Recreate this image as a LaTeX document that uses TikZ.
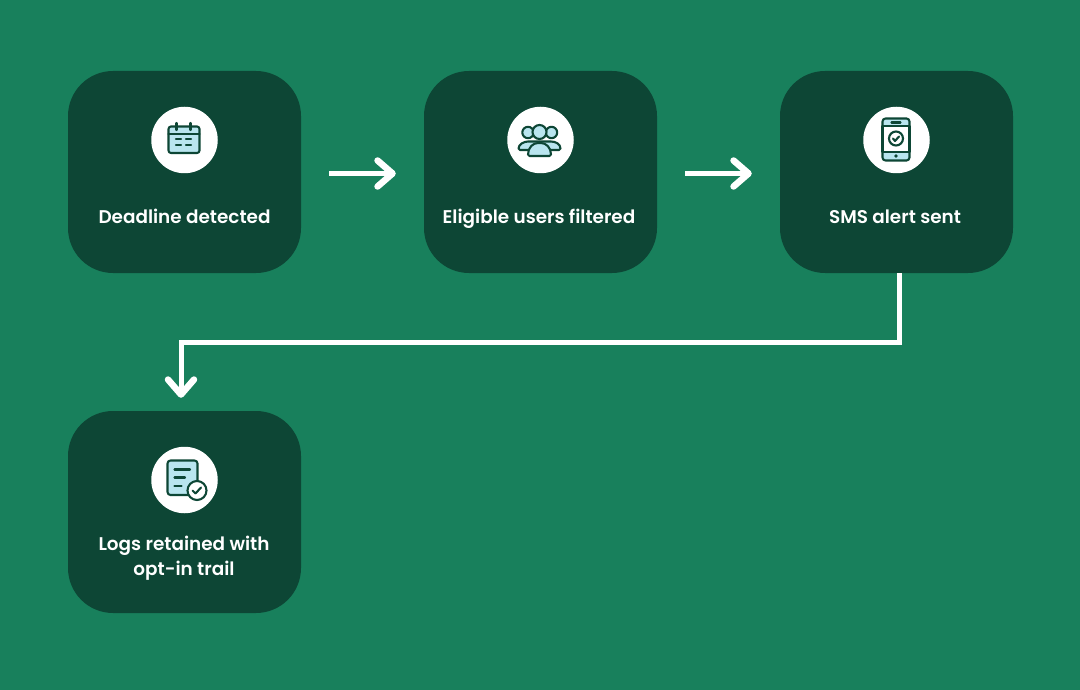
\documentclass[tikz,border=0pt]{standalone}
\usepackage{fontspec}
\setmainfont{Poppins}[BoldFont={* SemiBold}]
\usetikzlibrary{arrows.meta,positioning,calc}
\definecolor{bggreen}{HTML}{18805C}
\definecolor{boxgreen}{HTML}{0D4635}
\definecolor{iconblue}{HTML}{B9E5EF}
\tikzset{
  stepbox/.style={draw=none, fill=boxgreen, rounded corners=45pt, minimum width=233pt, minimum height=202pt, inner sep=0pt},
  badge/.style={circle, fill=white, minimum size=66.5pt, inner sep=0pt},
  steplabel/.style={text=white, font=\bfseries\fontsize{18.4}{25.5}\selectfont, align=center, inner sep=0pt},
  flowline/.style={draw=white, line width=5pt, -{Straight Barb[length=15pt, width=26pt, round, line width=6.5pt]}},
  iconline/.style={draw=boxgreen, line width=2.1pt, line cap=round, line join=round},
  iconfill/.style={iconline, fill=iconblue},
  pics/calicon/.style={code={
    \draw[iconfill, rounded corners=2.5pt] (-16,-13.5) rectangle (15,13);
    \draw[iconline] (-16,-6) -- (15,-6);
    \draw[iconline] (-8,-17) -- (-8,-10) (6,-17) -- (6,-10);
    \draw[iconline] (-8.5,-1) -- (-3.5,-1) (1.5,-1) -- (6.5,-1) (-8.5,5) -- (-3.5,5) (1.5,5) -- (6.5,5);
  }},
  pics/usersicon/.style={code={
    \draw[iconfill] (-12.5,-7.5) circle (5.7);
    \draw[iconfill] (11,-7.5) circle (5.7);
    \draw[iconfill, rounded corners=1.5pt] (-22,10) .. controls (-22,4) and (-16,1.5) .. (-11,1.5) -- (9,1.5) .. controls (15,1.5) and (20,4) .. (20,10) -- cycle;
    \draw[iconfill] (-1,-8) circle (7);
    \draw[iconfill, rounded corners=1.5pt] (-12.5,16) .. controls (-12.5,7.5) and (-7.5,3) .. (-1,3) .. controls (5.5,3) and (10.5,7.5) .. (10.5,16) -- cycle;
  }},
  pics/phoneicon/.style={code={
    \draw[iconfill, rounded corners=3pt] (-14,-21.5) rectangle (13,20.5);
    \draw[iconline, fill=white] (-14,-14) rectangle (13,12);
    \draw[iconline] (-5,-17.5) -- (4,-17.5);
    \fill[boxgreen] (-0.5,16) circle (1.8);
    \draw[iconline] (-0.5,-1.5) circle (7);
    \draw[iconline] (-3.5,-1.5) -- (-1.5,1) -- (2.5,-3.5);
  }},
  pics/docicon/.style={code={
    \draw[iconfill, rounded corners=3pt] (-17,-19.5) rectangle (13,15);
    \draw[iconline] (-10,-10.5) -- (5.5,-10.5) (-10,-2.5) -- (0.5,-2.5) (-10,6) -- (-3,6);
    \draw[iconline, fill=white] (12.5,10.5) circle (9.5);
    \draw[iconline] (8,10.5) -- (11,13.5) (11,13.5) -- (16.5,7.5);
  }},
}
\begin{document}
\begin{tikzpicture}[x=1pt, y=-1pt]
% Background
\fill[bggreen] (0,0) rectangle (1080,690);
\useasboundingbox (0,0) rectangle (1080,690);

% Step boxes
\node[stepbox] (box1) at (184.5,172) {};
\node[stepbox] (box2) at (540.5,172) {};
\node[stepbox] (box3) at (896.5,172) {};
\node[stepbox] (box4) at (184.5,512) {};

% Icon badges
\node[badge] (badge1) at (184.5,140) {};
\node[badge] (badge2) at (540.5,140) {};
\node[badge] (badge3) at (896.5,140) {};
\node[badge] (badge4) at (184.5,480) {};

% Icons
\pic at (badge1.center) {calicon};
\pic at (badge2.center) {usersicon};
\pic at (badge3.center) {phoneicon};
\pic at (badge4.center) {docicon};

% Labels
\node[steplabel, anchor=base] (label1) at (184.5,223.5) {Deadline detected};
\node[steplabel, anchor=base] (label2) at (539,223.5) {Eligible users filtered};
\node[steplabel, anchor=base] (label3) at (895,223.5) {SMS alert sent};
\node[steplabel] (label4) at (184,558) {Logs retained with\\opt-in trail};

% Connections
\draw[flowline, shorten <=28pt, shorten >=28pt] ([yshift=-1.5pt]box1.east) -- ([yshift=-1.5pt]box2.west);
\draw[flowline, shorten <=28pt, shorten >=28pt] ([yshift=-1.5pt]box2.east) -- ([yshift=-1.5pt]box3.west);
\draw[flowline, shorten >=13pt] ([xshift=3pt]box3.south) -- ++(0,69) -| ([xshift=-3.5pt]box4.north);
\end{tikzpicture}
\end{document}
